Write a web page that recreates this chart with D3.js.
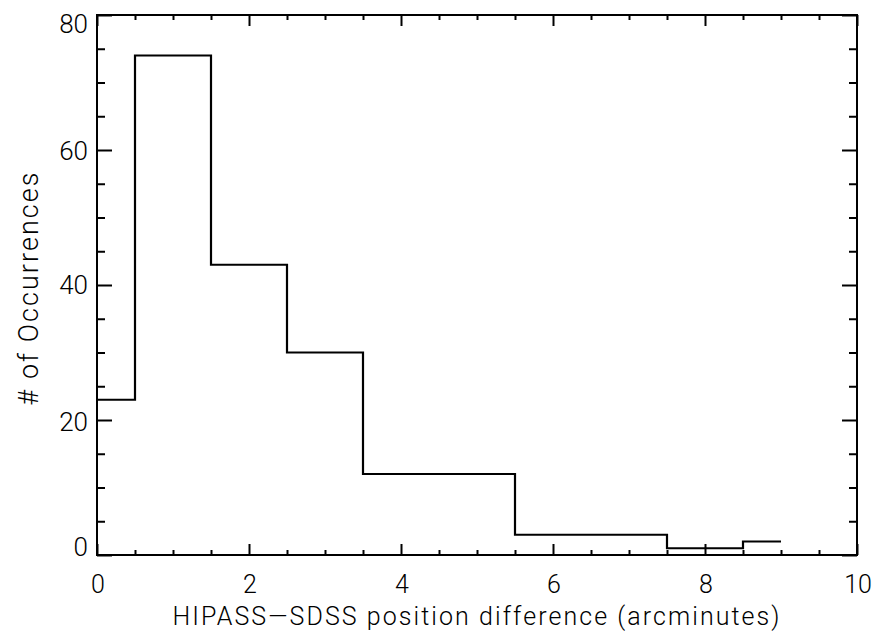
<!DOCTYPE html>
<html><head><meta charset="utf-8">
<script src="https://cdn.jsdelivr.net/npm/d3@7"></script>
<style>body{margin:0;background:#fff}svg{display:block}text{font-family:"Roboto","Liberation Sans",Arial,sans-serif;font-weight:300;fill:#000}</style>
</head><body><svg id="c" width="875" height="631"></svg>
<script>
const binCenters = [0,1,2,3,4,5,6,7,8,9];
const counts = [23,74,43,30,12,12,3,3,1,2];
const xTicks = [0,2,4,6,8,10];
const yTicks = [0,20,40,60,80];
const xLabel = "HIPASS\u2014SDSS position difference (arcminutes)";
const yLabel = "# of Occurrences";

const L=97,R=857,T=15,B=555;
const svg=d3.select("#c");
const x=d3.scaleLinear().domain([0,10]).range([L,R]);
const y=d3.scaleLinear().domain([0,80]).range([B,T]);

// histogram steps (IDL psym=10 style)
const pts=[];
binCenters.forEach((c,i)=>{
  const x0 = i===0 ? c : c-0.5;
  const x1 = i===binCenters.length-1 ? c : c+0.5;
  pts.push([x0,counts[i]]);pts.push([x1,counts[i]]);
});
svg.append("path").attr("d",d3.line().x(d=>x(d[0])).y(d=>y(d[1]))(pts))
  .attr("fill","none").attr("stroke","#000").attr("stroke-width",2.2);

// frame
svg.append("rect").attr("x",L).attr("y",T).attr("width",R-L).attr("height",B-T)
  .attr("fill","none").attr("stroke","#000").attr("stroke-width",2);

function ticks(g,axisGen){g.call(axisGen);g.select(".domain").remove();g.selectAll("line").attr("stroke","#000").attr("stroke-width",2);}
const xMinor=d3.range(0,10.01,0.5).filter(v=>v%2!==0);
const yMinor=d3.range(0,80.01,5).filter(v=>v%20!==0);
// bottom
ticks(svg.append("g").attr("transform",`translate(0,${B})`),d3.axisTop(x).tickValues(xTicks).tickSize(11).tickFormat(""));
ticks(svg.append("g").attr("transform",`translate(0,${B})`),d3.axisTop(x).tickValues(xMinor).tickSize(5).tickFormat(""));
// top
ticks(svg.append("g").attr("transform",`translate(0,${T})`),d3.axisBottom(x).tickValues(xTicks).tickSize(11).tickFormat(""));
ticks(svg.append("g").attr("transform",`translate(0,${T})`),d3.axisBottom(x).tickValues(xMinor).tickSize(5).tickFormat(""));
// left
ticks(svg.append("g").attr("transform",`translate(${L},0)`),d3.axisRight(y).tickValues(yTicks).tickSize(15).tickFormat(""));
ticks(svg.append("g").attr("transform",`translate(${L},0)`),d3.axisRight(y).tickValues(yMinor).tickSize(8).tickFormat(""));
// right
ticks(svg.append("g").attr("transform",`translate(${R},0)`),d3.axisLeft(y).tickValues(yTicks).tickSize(15).tickFormat(""));
ticks(svg.append("g").attr("transform",`translate(${R},0)`),d3.axisLeft(y).tickValues(yMinor).tickSize(8).tickFormat(""));

// tick labels
svg.append("g").selectAll("text").data(xTicks).join("text")
  .attr("x",d=>x(d)+1).attr("y",B+38).attr("text-anchor","middle")
  .attr("font-size",25).text(d=>d);
const yOff={0:-8,20:2,40:0,60:1,80:9};
svg.append("g").selectAll("text").data(yTicks).join("text")
  .attr("x",L-9).attr("y",d=>y(d)+yOff[d]).attr("dy","0.36em").attr("text-anchor","end")
  .attr("font-size",26).text(d=>d);

// titles
svg.append("text").attr("x",476).attr("y",625).attr("text-anchor","middle")
  .attr("font-size",25).attr("textLength",607).attr("lengthAdjust","spacing").text(xLabel);
svg.append("text").attr("transform","translate(38,289) rotate(-90)").attr("text-anchor","middle")
  .attr("font-size",27).attr("textLength",233).attr("lengthAdjust","spacing").text(yLabel);
</script></body></html>
